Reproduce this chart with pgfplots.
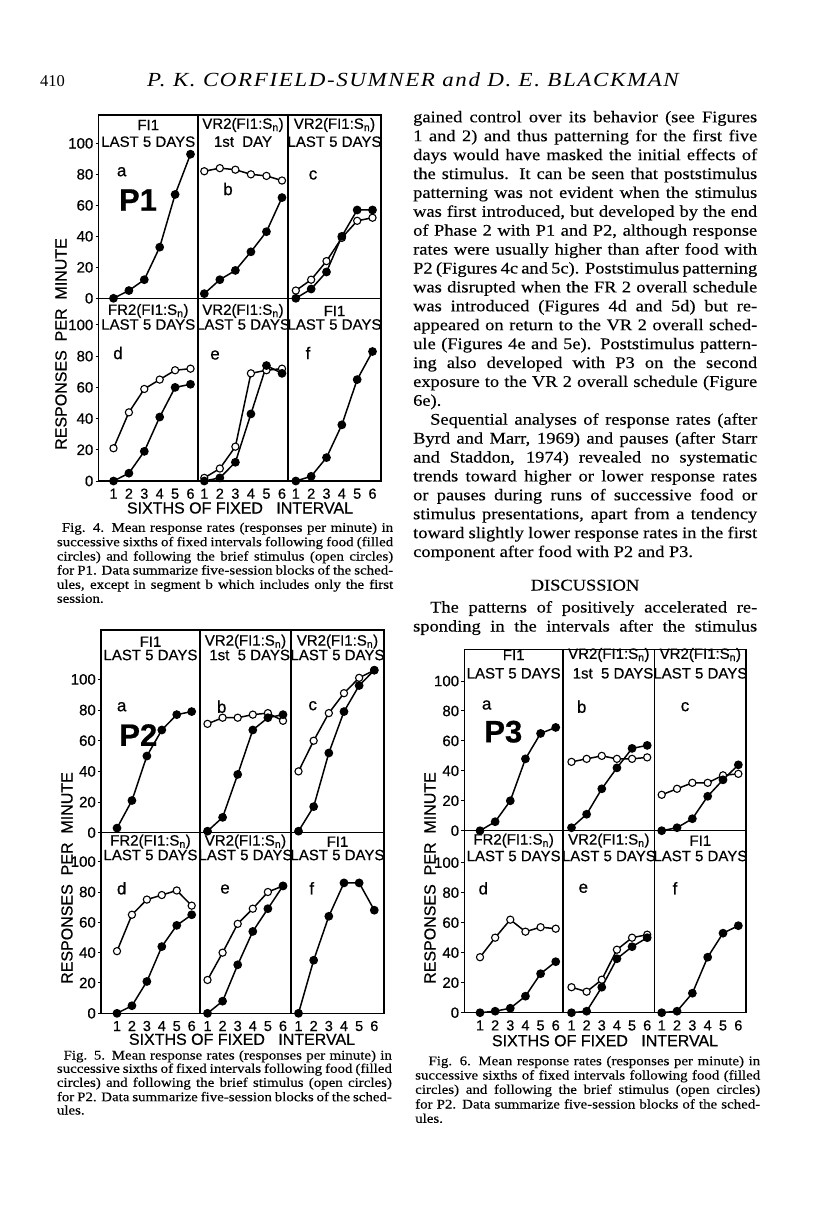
\documentclass[border=0pt]{standalone}
\usepackage{fontspec}
\setmainfont{Liberation Serif}
\newfontfamily\bodyfam[FakeStretch=1.13,FakeBold=0.3]{Liberation Serif}
\newfontfamily\headfam[FakeStretch=1.15,LetterSpace=8]{Liberation Serif}
\newfontfamily\figfam[FakeBold=0.6]{Liberation Sans}
\usepackage{pgfplots}
\pgfplotsset{compat=1.18}

\newcommand\bodyf{\bodyfam\fontsize{16.3}{18.9}\selectfont}
\newcommand\capf{\bodyfam\fontsize{13.2}{14.2}\selectfont}
\newcommand\titf{\figfam\fontsize{15}{15}\selectfont}
\newcommand\tickf{\figfam\fontsize{15}{15}\selectfont}
\newcommand\xtickf{\figfam\fontsize{14.5}{14.5}\selectfont}
\newcommand\labf{\figfam\fontsize{16}{16}\selectfont}
\newcommand\letf{\figfam\fontsize{17}{17}\selectfont}
\newcommand\bigf{\figfam\bfseries\fontsize{31}{31}\selectfont}

\pgfplotsset{
  panel/.style={scale only axis, anchor=south west, clip=false, ymin=0,
    axis line style={line width=1.5pt}, xtick=\empty, ytick=\empty,
    tick style={black, line width=1pt}, major tick length=3pt, tick align=outside,
    ytick pos=left, xtick pos=bottom, /pgf/number format/assume math mode=true},
  yl/.style={ytick={0,20,40,60,80,100},
    yticklabel style={font=\tickf, inner sep=0pt, anchor=east, xshift=-2pt}},
  xl/.style={xtick={1,2,3,4,5,6}, xtick style={draw=none},
    xticklabel style={font=\xtickf, inner sep=0pt, anchor=north, yshift=-4pt, text height=10.5pt, text depth=0pt}},
  food/.style={black, line width=1.5pt, mark=*, mark size=3.6pt, mark options={fill=black, solid}},
  stim/.style={black, line width=1.5pt, mark=*, mark size=3.6pt, mark options={fill=white, line width=1.1pt, solid}},
}
% L, Z(bottom px), W, H, xmin, xmax, ymax, extra
\newcommand\panel[8]{\begin{axis}[panel, at={(#1pt,-#2pt)}, width=#3pt, height=#4pt, xmin=#5, xmax=#6, ymax=#7, #8]}

\newcommand\bl[2]{\node[anchor=base west, inner sep=0pt] at (413,#1) {\bodyf\makebox[344pt][s]{#2}};}
\newcommand\blast[2]{\node[anchor=base west, inner sep=0pt] at (413,#1) {\bodyf\makebox[344pt][l]{#2}};}
\newcommand\bind[2]{\node[anchor=base west, inner sep=0pt] at (430,#1) {\bodyf\makebox[327pt][s]{#2}};}
\newcommand\cl[4]{\node[anchor=base west, inner sep=0pt] at (#1,#2) {\capf\makebox[#3pt][s]{#4}};}
\newcommand\clast[4]{\node[anchor=base west, inner sep=0pt] at (#1,#2) {\capf\makebox[#3pt][l]{#4}};}
\newcommand\ttl[5]{\node[inner sep=0pt, font=\titf] at (#1,#2) {#4};\node[inner sep=0pt, font=\titf] at (#1,#3) {#5};}
\newcommand\Sn{S\textsubscript{n}}

\begin{document}
\begin{tikzpicture}
\fill[white] (0,0) rectangle (816pt,-1207pt);
\path[use as bounding box] (0,0) rectangle (816pt,-1207pt);

%%%%%%%%%%%%%%%% FIG 4 (P1)
\panel{98.5}{298.3}{99.5}{183.3}{0.026}{6.487}{118.3}{yl}
\addplot[food] coordinates {(1,0)(2,5)(3,12)(4,33)(5,67)(6,93)};
\end{axis}
\panel{198}{298.3}{90}{183.3}{0.595}{6.386}{118.3}{}
\addplot[stim] coordinates {(1,82)(2,84)(3,83)(4,80)(5,79)(6,76)};
\addplot[food] coordinates {(1,3)(2,12)(3,18)(4,30)(5,43)(6,65)};
\end{axis}
\panel{288}{298.3}{93}{183.3}{0.49}{6.554}{118.3}{}
\addplot[stim] coordinates {(1,5)(2,12)(3,24)(4,39)(5,50)(6,52)};
\addplot[food] coordinates {(1,0)(2,6)(3,17)(4,40)(5,57)(6,57)};
\end{axis}
\panel{98.5}{481}{99.5}{182.7}{0.026}{6.487}{117.1}{yl,xl}
\addplot[stim] coordinates {(1,21)(2,44)(3,59)(4,65)(5,71)(6,72)};
\addplot[food] coordinates {(1,0)(2,5)(3,19)(4,41)(5,60)(6,62)};
\end{axis}
\panel{198}{481}{90}{182.7}{0.595}{6.386}{117.1}{xl}
\addplot[stim] coordinates {(1,2)(2,8)(3,22)(4,69)(5,71)(6,72)};
\addplot[food] coordinates {(1,0)(2,2)(3,12)(4,43)(5,74)(6,69)};
\end{axis}
\panel{288}{481}{93}{182.7}{0.49}{6.554}{117.1}{xl}
\addplot[food] coordinates {(1,0)(2,3)(3,15)(4,36)(5,65)(6,83)};
\end{axis}

%%%%%%%%%%%%%%%% FIG 5 (P2)
\panel{101}{832.7}{99}{202.7}{-0.071}{6.556}{132.2}{yl}
\addplot[food] coordinates {(1,3)(2,21)(3,50)(4,67)(5,77)(6,79)};
\end{axis}
\panel{200}{832.7}{91}{202.7}{0.503}{6.53}{132.2}{}
\addplot[stim] coordinates {(1,71)(2,75)(3,75)(4,77)(5,78)(6,73)};
\addplot[food] coordinates {(1,1)(2,10)(3,38)(4,67)(5,75)(6,77)};
\end{axis}
\panel{291}{832.7}{93}{202.7}{0.505}{6.64}{132.2}{}
\addplot[stim] coordinates {(1,40)(2,60)(3,78)(4,91)(5,101)(6,106)};
\addplot[food] coordinates {(1,1)(2,17)(3,52)(4,79)(5,96)(6,106)};
\end{axis}
\panel{101}{1013.3}{99}{180.6}{-0.071}{6.556}{119.1}{yl,xl}
\addplot[stim] coordinates {(1,41)(2,65)(3,75)(4,78)(5,81)(6,71)};
\addplot[food] coordinates {(1,0)(2,5)(3,21)(4,44)(5,58)(6,65)};
\end{axis}
\panel{200}{1013.3}{91}{180.6}{0.503}{6.53}{119.1}{xl}
\addplot[stim] coordinates {(1,22)(2,40)(3,59)(4,69)(5,80)(6,84)};
\addplot[food] coordinates {(1,0)(2,8)(3,32)(4,54)(5,69)(6,84)};
\end{axis}
\panel{291}{1013.3}{93}{180.6}{0.505}{6.64}{119.1}{xl}
\addplot[food] coordinates {(1,0)(2,35)(3,64)(4,86)(5,86)(6,68)};
\end{axis}

%%%%%%%%%%%%%%%% FIG 6 (P3)
\panel{464.3}{830.7}{98.7}{181.4}{-0.037}{6.48}{121.2}{yl}
\addplot[food] coordinates {(1,0)(2,6)(3,20)(4,48)(5,65)(6,69)};
\end{axis}
\panel{563}{830.7}{91.7}{181.4}{0.44}{6.495}{121.2}{}
\addplot[stim] coordinates {(1,46)(2,48)(3,50)(4,48)(5,48)(6,49)};
\addplot[food] coordinates {(1,2)(2,11)(3,28)(4,42)(5,55)(6,57)};
\end{axis}
\panel{654.7}{830.7}{91.3}{181.4}{0.543}{6.50}{121.2}{}
\addplot[stim] coordinates {(1,24)(2,28)(3,32)(4,32)(5,37)(6,38)};
\addplot[food] coordinates {(1,0)(2,2)(3,8)(4,23)(5,34)(6,44)};
\end{axis}
\panel{464.3}{1012.7}{98.7}{182}{-0.037}{6.48}{121.3}{yl,xl}
\addplot[stim] coordinates {(1,37)(2,50)(3,62)(4,54)(5,57)(6,56)};
\addplot[food] coordinates {(1,0)(2,1)(3,3)(4,11)(5,26)(6,34)};
\end{axis}
\panel{563}{1012.7}{91.7}{182}{0.44}{6.495}{121.3}{xl}
\addplot[stim] coordinates {(1,17)(2,14)(3,22)(4,42)(5,50)(6,52)};
\addplot[food] coordinates {(1,0)(2,1)(3,17)(4,36)(5,44)(6,50)};
\end{axis}
\panel{654.7}{1012.7}{91.3}{182}{0.543}{6.50}{121.3}{xl}
\addplot[food] coordinates {(1,0)(2,1)(3,13)(4,37)(5,53)(6,58)};
\end{axis}

\begin{scope}[x=1pt,y=-1pt]
% header
\node[anchor=base west, inner sep=0pt, font=\fontsize{16.5}{16.5}\selectfont] at (40,86) {410};
\node[anchor=base, inner sep=0pt] at (413,86) {\headfam\itshape\fontsize{20}{20}\selectfont P. K. CORFIELD-SUMNER and D. E. BLACKMAN};

% ---- Fig 4 annotations
\ttl{148.25}{125}{141.7}{FI1}{LAST 5 DAYS}
\ttl{243}{125}{141.7}{VR2(FI1:\Sn)}{1st\ \ DAY}
\ttl{334.5}{125}{141.7}{VR2(FI1:\Sn)}{LAST 5 DAYS}
\ttl{148.25}{311}{324.5}{FR2(FI1:\Sn)}{LAST 5 DAYS}
\ttl{243}{311}{324.5}{VR2(FI1:\Sn)}{LAST 5 DAYS}
\ttl{334.5}{311}{324.5}{FI1}{LAST 5 DAYS}
\node[font=\letf] at (121.7,171.7) {a};
\node[font=\letf] at (228,189) {b};
\node[font=\letf] at (313,175) {c};
\node[font=\letf] at (118,353) {d};
\node[font=\letf] at (215,355) {e};
\node[font=\letf] at (308,353) {f};
\node[font=\bigf] at (138,200) {P1};
\node[font=\labf, rotate=90] at (61,344) {RESPONSES\ \ PER\ \ MINUTE};
\node[font=\labf] at (240,508) {SIXTHS\ OF\ FIXED\ \ \ INTERVAL};

% ---- Fig 5 annotations
\ttl{150.5}{641.7}{655}{FI1}{LAST 5 DAYS}
\ttl{245.5}{641.7}{655}{VR2(FI1:\Sn)}{\ \ 1st\ \ 5 DAYS}
\ttl{337.5}{641.7}{655}{VR2(FI1:\Sn)}{LAST 5 DAYS}
\ttl{150.5}{841.7}{855}{FR2(FI1:\Sn)}{LAST 5 DAYS}
\ttl{245.5}{841.7}{855}{VR2(FI1:\Sn)}{LAST 5 DAYS}
\ttl{337.5}{841.7}{855}{FI1}{LAST 5 DAYS}
\node[font=\letf] at (121.7,706.7) {a};
\node[font=\letf] at (221.7,706.7) {b};
\node[font=\letf] at (312.7,705.7) {c};
\node[font=\letf] at (121.7,888.3) {d};
\node[font=\letf] at (225,889) {e};
\node[font=\letf] at (311.7,888.3) {f};
\node[font=\bigf] at (138.3,735) {P2};
\node[font=\labf, rotate=90] at (67,878) {RESPONSES\ \ PER\ \ MINUTE};
\node[font=\labf] at (242,1039.3) {SIXTHS\ OF\ FIXED\ \ \ INTERVAL};

% ---- Fig 6 annotations
\ttl{513.65}{655}{673.3}{FI1}{LAST 5 DAYS}
\ttl{608.85}{655}{673.3}{VR2(FI1:\Sn)}{\ \ 1st\ \ 5 DAYS}
\ttl{700.35}{655}{673.3}{VR2(FI1:\Sn)}{LAST 5 DAYS}
\ttl{513.65}{840.7}{856}{FR2(FI1:\Sn)}{LAST 5 DAYS}
\ttl{608.85}{840.7}{856}{VR2(FI1:\Sn)}{LAST 5 DAYS}
\ttl{700.35}{840.7}{856}{FI1}{LAST 5 DAYS}
\node[font=\letf] at (486.7,705) {a};
\node[font=\letf] at (581.7,706.7) {b};
\node[font=\letf] at (685,706.7) {c};
\node[font=\letf] at (483.3,888.3) {d};
\node[font=\letf] at (583.3,888.3) {e};
\node[font=\letf] at (675,888.3) {f};
\node[font=\bigf] at (503.3,731.7) {P3};
\node[font=\labf, rotate=90] at (430,878) {RESPONSES\ \ PER\ \ MINUTE};
\node[font=\labf] at (605,1040.7) {SIXTHS\ OF\ FIXED\ \ \ INTERVAL};

% ---- body text (right column)
\bl{122.3}{gained control over its behavior (see Figures}
\bl{141.2}{1 and 2) and thus patterning for the first five}
\bl{160.1}{days would have masked the initial effects of}
\bl{179.0}{the stimulus. It can be seen that poststimulus}
\bl{197.9}{patterning was not evident when the stimulus}
\bl{216.8}{was first introduced, but developed by the end}
\bl{235.7}{of Phase 2 with P1 and P2, although response}
\bl{254.6}{rates were usually higher than after food with}
\bl{273.5}{P2 (Figures 4c and 5c). Poststimulus patterning}
\bl{292.4}{was disrupted when the FR 2 overall schedule}
\bl{311.3}{was introduced (Figures 4d and 5d) but re-}
\bl{330.2}{appeared on return to the VR 2 overall sched-}
\bl{349.1}{ule (Figures 4e and 5e). Poststimulus pattern-}
\bl{368.0}{ing also developed with P3 on the second}
\bl{386.9}{exposure to the VR 2 overall schedule (Figure}
\blast{405.8}{6e).}
\bind{424.7}{Sequential analyses of response rates (after}
\bl{443.6}{Byrd and Marr, 1969) and pauses (after Starr}
\bl{462.5}{and Staddon, 1974) revealed no systematic}
\bl{481.4}{trends toward higher or lower response rates}
\bl{500.3}{or pauses during runs of successive food or}
\bl{519.2}{stimulus presentations, apart from a tendency}
\bl{538.1}{toward slightly lower response rates in the first}
\blast{557.0}{component after food with P2 and P3.}
\node[anchor=base, inner sep=0pt] at (585,590.5) {\bodyf DISCUSSION};
\bind{612.5}{The patterns of positively accelerated re-}
\bl{631.5}{sponding in the intervals after the stimulus}

% ---- captions
\cl{61.7}{531.8}{331.3}{Fig. 4. Mean response rates (responses per minute) in}
\cl{56.7}{546.2}{336.3}{successive sixths of fixed intervals following food (filled}
\cl{56.7}{560.5}{336.3}{circles) and following the brief stimulus (open circles)}
\cl{56.7}{574.5}{336.3}{for P1. Data summarize five-session blocks of the sched-}
\cl{56.7}{588.8}{336.3}{ules, except in segment b which includes only the first}
\clast{56.7}{602.8}{336.3}{session.}

\cl{63.4}{1059.5}{328.3}{Fig. 5. Mean response rates (responses per minute) in}
\cl{56.7}{1072.8}{335}{successive sixths of fixed intervals following food (filled}
\cl{56.7}{1086.8}{335}{circles) and following the brief stimulus (open circles)}
\cl{56.7}{1101.2}{335}{for P2. Data summarize five-session blocks of the sched-}
\clast{56.7}{1114.5}{335}{ules.}

\cl{428.3}{1065.2}{331.7}{Fig. 6. Mean response rates (responses per minute) in}
\cl{415}{1079.5}{345}{successive sixths of fixed intervals following food (filled}
\cl{415}{1093.8}{345}{circles) and following the brief stimulus (open circles)}
\cl{415}{1108.5}{345}{for P2. Data summarize five-session blocks of the sched-}
\clast{415}{1122.8}{345}{ules.}
\end{scope}
\end{tikzpicture}
\end{document}
